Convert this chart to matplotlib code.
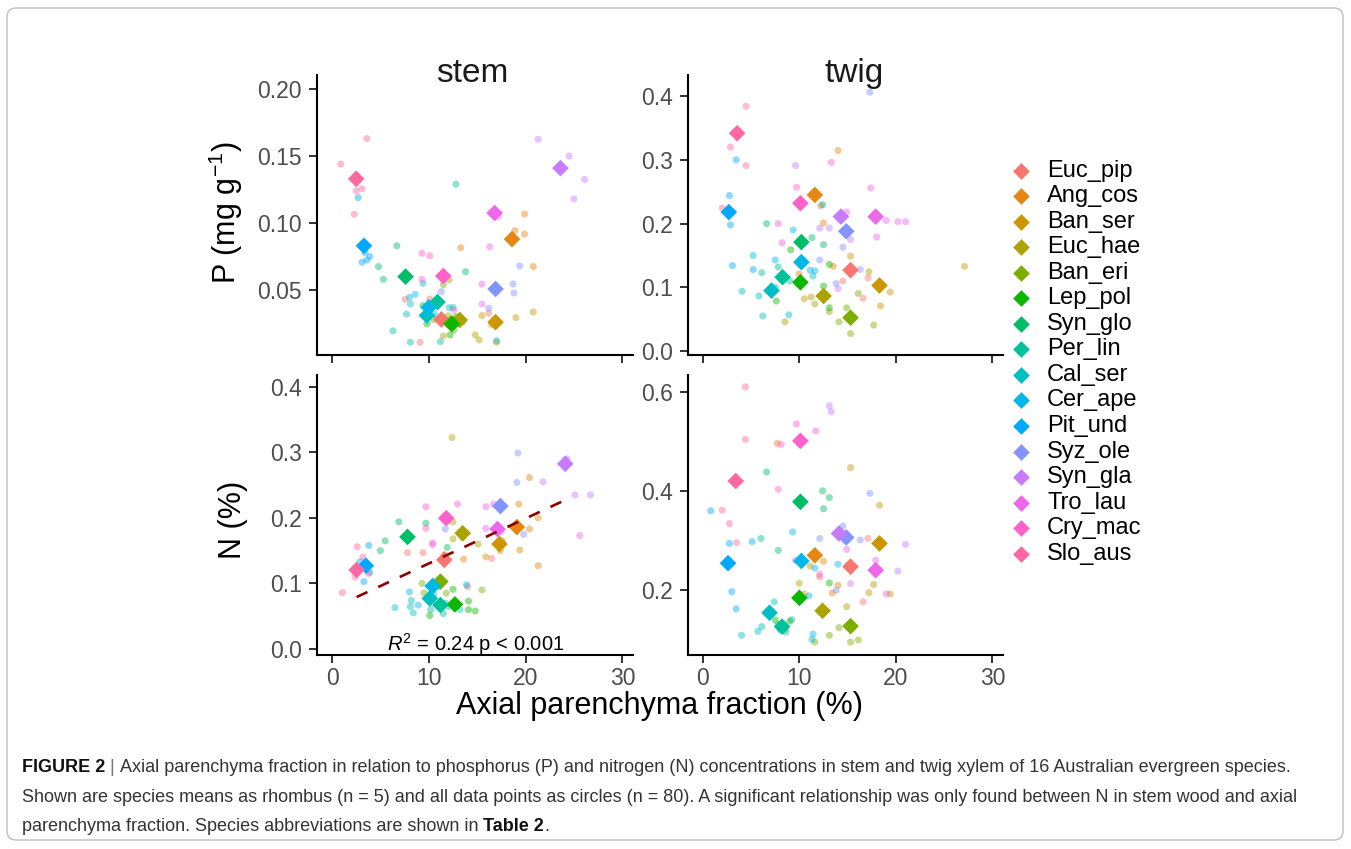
import matplotlib
matplotlib.use("Agg")
import matplotlib.pyplot as plt
from matplotlib import font_manager as fm
from matplotlib.patches import FancyBboxPatch
import numpy as np

# ---------------- data ----------------
SPECIES = ["Euc_pip", "Ang_cos", "Ban_ser", "Euc_hae", "Ban_eri", "Lep_pol", "Syn_glo", "Per_lin",
           "Cal_ser", "Cer_ape", "Pit_und", "Syz_ole", "Syn_gla", "Tro_lau", "Cry_mac", "Slo_aus"]
COLORS = ["#F8766D", "#E68613", "#CD9600", "#ABA300", "#7CAE00", "#0CB702", "#00BE67", "#00C19A",
          "#00BFC4", "#00B8E7", "#00A9FF", "#8494FF", "#C77CFF", "#ED68ED", "#FF61CC", "#FF68A1"]
N_PER_SPECIES = 5

# species means (rhombus)
STEM_P_MEAN_X = [11.3, 18.6, 16.9, 13.2, 12.3, 12.4, 7.6, 10.9, 9.8, 10.0, 3.3, 16.9, 23.6, 16.8, 11.5, 2.5]
STEM_P_MEAN_Y = [0.028, 0.088, 0.026, 0.0277, 0.025, 0.0247, 0.060, 0.041, 0.031, 0.037, 0.083, 0.0508,
                 0.141, 0.1075, 0.0605, 0.133]
STEM_N_MEAN_X = [11.6, 19.1, 17.3, 13.5, 11.2, 12.7, 7.8, 11.2, 10.1, 10.4, 3.5, 17.4, 24.1, 17.1, 11.8, 2.55]
STEM_N_MEAN_Y = [0.136, 0.186, 0.160, 0.1766, 0.1028, 0.068, 0.171, 0.067, 0.077, 0.096, 0.127, 0.218,
                 0.2825, 0.183, 0.1995, 0.1206]
TWIG_P_MEAN_X = [15.3, 11.6, 18.3, 12.5, 15.3, 10.1, 10.2, 8.25, 7.1, 10.2, 2.68, 14.85, 14.3, 17.9, 10.1, 3.54]
TWIG_P_MEAN_Y = [0.127, 0.245, 0.103, 0.0865, 0.0525, 0.108, 0.171, 0.116, 0.095, 0.1396, 0.218, 0.188,
                 0.211, 0.211, 0.232, 0.3417]
TWIG_N_MEAN_X = [15.3, 11.6, 18.3, 12.4, 15.3, 10.0, 10.1, 8.2, 6.9, 10.2, 2.6, 14.85, 14.1, 17.9, 10.1, 3.4]
TWIG_N_MEAN_Y = [0.247, 0.270, 0.294, 0.158, 0.127, 0.184, 0.378, 0.126, 0.154, 0.2586, 0.254, 0.306,
                 0.314, 0.240, 0.501, 0.420]

# all data points (circles), 5 per species in SPECIES order
STEM_P_PT_X = [7.55, 9.1, 10.1, 16.2, 13.0, 19.9, 19.9, 18.9, 20.8, 13.3, 19.0, 17.0, 15.5, 20.8, 16.5,
               14.8, 15.2, 12.1, 12.0, 11.5, 11.5, 12.6, 10.5, 13.5, 12.0, 9.4, 9.8, 12.2, 13.0, 12.8,
               6.7, 4.8, 5.3, 13.8, 7.6, 12.8, 6.3, 8.1, 11.2, 12.5, 9.4, 8.1, 7.7, 17.0, 12.1,
               8.0, 8.6, 10.6, 11.3, 10.5, 2.7, 3.1, 3.6, 3.4, 3.9, 11.3, 18.7, 18.8, 19.4, 16.2,
               21.3, 24.5, 26.1, 25.0, 23.4, 16.3, 15.5, 15.5, 16.8, 17.2, 9.3, 10.1, 9.3, 12.6, 11.5,
               0.9, 3.6, 2.5, 3.1, 2.3]
STEM_P_PT_Y = [0.043, 0.011, 0.0433, 0.0327, 0.025, 0.1067, 0.0918, 0.0943, 0.0675, 0.0816,
               0.0294, 0.011, 0.0309, 0.0336, 0.024, 0.0165, 0.0128, 0.0575, 0.0307, 0.0157,
               0.054, 0.020, 0.028, 0.026, 0.024, 0.0383, 0.0247, 0.0165, 0.027, 0.030,
               0.083, 0.0675, 0.058, 0.0637, 0.060, 0.129, 0.0195, 0.011, 0.0115, 0.037,
               0.055, 0.0396, 0.032, 0.0122, 0.0368, 0.0446, 0.0468, 0.032, 0.030, 0.040,
               0.119, 0.0707, 0.0724, 0.078, 0.075, 0.0488, 0.0545, 0.0478, 0.068, 0.0364,
               0.1625, 0.150, 0.1326, 0.118, 0.140, 0.0823, 0.0396, 0.0543, 0.108, 0.105,
               0.0774, 0.0756, 0.058, 0.035, 0.060, 0.144, 0.163, 0.124, 0.1256, 0.1065]

STEM_N_PT_X = [9.4, 7.8, 16.5, 14.0, 11.6, 19.3, 20.4, 20.4, 21.3, 13.6, 15.9, 21.3, 19.4, 17.4, 17.6,
               12.4, 12.5, 12.5, 15.1, 13.5, 9.5, 15.5, 9.3, 11.8, 10.5, 10.1, 14.1, 14.1, 14.8, 12.5,
               5.0, 5.5, 6.9, 9.7, 11.9, 11.5, 10.5, 11.7, 12.0, 10.2, 6.5, 8.2, 8.1, 8.4, 13.2,
               8.0, 8.9, 13.9, 10.5, 11.0, 3.8, 3.3, 2.9, 3.9, 3.6, 19.2, 19.1, 19.8, 11.7, 17.2,
               21.8, 25.1, 26.7, 24.0, 24.3, 15.9, 15.9, 10.4, 25.6, 17.5, 9.7, 9.7, 10.4, 12.97, 16.7,
               1.07, 2.6, 2.38, 3.2, 3.8]
STEM_N_PT_Y = [0.147, 0.147, 0.138, 0.095, 0.144, 0.221, 0.2616, 0.183, 0.127, 0.137,
               0.1405, 0.200, 0.151, 0.150, 0.165, 0.3226, 0.194, 0.168, 0.160, 0.170,
               0.0855, 0.0901, 0.100, 0.085, 0.095, 0.051, 0.073, 0.060, 0.058, 0.091,
               0.150, 0.165, 0.194, 0.192, 0.155, 0.054, 0.084, 0.070, 0.065, 0.060,
               0.063, 0.074, 0.0646, 0.055, 0.060, 0.087, 0.067, 0.098, 0.100, 0.095,
               0.158, 0.1028, 0.133, 0.117, 0.128, 0.299, 0.254, 0.175, 0.183, 0.180,
               0.255, 0.235, 0.235, 0.280, 0.290, 0.217, 0.184, 0.159, 0.173, 0.180,
               0.217, 0.184, 0.162, 0.221, 0.221, 0.086, 0.156, 0.110, 0.140, 0.115]

TWIG_P_PT_X = [17.1, 16.6, 12.2, 15.3, 14.5, 14.0, 12.5, 13.5, 9.97, 11.6, 19.4, 18.4, 27.1, 15.3, 10.5,
               11.2, 11.6, 13.1, 8.5, 17.2, 14.9, 14.1, 17.7, 15.3, 16.1, 12.5, 13.1, 7.6, 9.1, 13.1,
               12.4, 11.3, 12.5, 6.6, 10.2, 7.8, 6.1, 8.25, 9.0, 7.5, 4.06, 5.8, 6.2, 8.9, 11.4,
               9.35, 5.2, 7.5, 11.1, 11.6, 3.44, 2.75, 2.85, 3.06, 5.2, 17.3, 14.5, 16.3, 13.8, 12.1,
               9.6, 12.1, 15.3, 13.1, 14.0, 17.4, 19.0, 20.2, 21.0, 18.0, 13.3, 9.7, 7.8, 8.2, 14.9,
               4.47, 2.85, 4.47, 2.0, 3.5]
TWIG_P_PT_Y = [0.115, 0.083, 0.228, 0.127, 0.110, 0.3146, 0.201, 0.133, 0.121, 0.245,
               0.0927, 0.071, 0.133, 0.149, 0.082, 0.085, 0.074, 0.062, 0.046, 0.1245,
               0.068, 0.046, 0.041, 0.0276, 0.0905, 0.102, 0.068, 0.0786, 0.159, 0.136,
               0.2297, 0.178, 0.167, 0.200, 0.170, 0.132, 0.123, 0.116, 0.110, 0.100,
               0.094, 0.0865, 0.0552, 0.057, 0.118, 0.190, 0.150, 0.143, 0.127, 0.126,
               0.300, 0.244, 0.198, 0.134, 0.128, 0.406, 0.163, 0.128, 0.106, 0.143,
               0.291, 0.193, 0.175, 0.193, 0.098, 0.256, 0.205, 0.203, 0.203, 0.179,
               0.296, 0.257, 0.200, 0.170, 0.218, 0.384, 0.320, 0.291, 0.2245, 0.340]

TWIG_N_PT_X = [17.1, 16.6, 12.1, 15.3, 15.0, 7.7, 12.5, 14.0, 13.4, 10.5, 15.3, 18.3, 19.4, 11.1, 18.3,
               9.97, 17.7, 17.2, 14.9, 8.5, 14.1, 13.1, 11.6, 15.3, 16.1, 13.1, 7.5, 9.0, 12.4, 10.0,
               6.6, 12.4, 13.1, 12.5, 7.8, 6.0, 8.0, 7.8, 9.2, 8.6, 7.4, 6.1, 5.7, 4.0, 11.3,
               9.3, 11.6, 14.0, 11.0, 11.4, 0.8, 2.75, 2.99, 3.44, 5.1, 17.3, 14.5, 16.3, 12.1, 13.8,
               13.1, 13.3, 21.0, 20.2, 15.3, 17.9, 19.0, 14.9, 9.6, 18.3, 9.7, 11.7, 7.8, 8.1, 12.1,
               4.4, 4.4, 2.0, 2.75, 3.5]
TWIG_N_PT_Y = [0.304, 0.176, 0.2262, 0.247, 0.250, 0.496, 0.258, 0.2094, 0.194, 0.192,
               0.447, 0.371, 0.192, 0.2485, 0.290, 0.2135, 0.211, 0.1946, 0.1663, 0.1206,
               0.124, 0.1085, 0.0948, 0.0948, 0.099, 0.2142, 0.139, 0.137, 0.158, 0.184,
               0.438, 0.400, 0.3865, 0.364, 0.280, 0.304, 0.120, 0.130, 0.140, 0.115,
               0.176, 0.126, 0.1165, 0.1085, 0.100, 0.317, 0.244, 0.252, 0.188, 0.111,
               0.360, 0.294, 0.1966, 0.162, 0.2976, 0.395, 0.329, 0.301, 0.304, 0.1993,
               0.572, 0.560, 0.292, 0.238, 0.2128, 0.260, 0.192, 0.282, 0.260, 0.240,
               0.535, 0.521, 0.403, 0.494, 0.2317, 0.610, 0.504, 0.361, 0.334, 0.2956]

# significant regression (stem N ~ axial parenchyma)
TREND_INTERCEPT = 0.0617
TREND_SLOPE = 0.00687
TREND_X_RANGE = [2.55, 24.1]
R2_TEXT = "0.24"
P_TEXT = "p < 0.001"

X_TICKS = [0, 10, 20, 30]
STEM_P_TICKS = [0.05, 0.10, 0.15, 0.20]
TWIG_P_TICKS = [0.0, 0.1, 0.2, 0.3, 0.4]
STEM_N_TICKS = [0.0, 0.1, 0.2, 0.3, 0.4]
TWIG_N_TICKS = [0.2, 0.4, 0.6]

CAPTION_LINES = [
    [("FIGURE 2", "bold", "#111111"), (" | ", "normal", "#777777"),
     ("Axial parenchyma fraction in relation to phosphorus (P) and nitrogen (N) concentrations in stem and twig xylem of 16 Australian evergreen species.", "normal", "#333333")],
    [("Shown are species means as rhombus (n = 5) and all data points as circles (n = 80). A significant relationship was only found between N in stem wood and axial", "normal", "#333333")],
    [("parenchyma fraction. Species abbreviations are shown in ", "normal", "#333333"),
     ("Table 2", "bold", "#111111"), (".", "normal", "#333333")],
]

# ---------------- style ----------------
W, H = 1351, 849
names = {f.name for f in fm.fontManager.ttflist}
BASE = "Liberation Sans" if "Liberation Sans" in names else "DejaVu Sans"
CAP_FAMILY = "Liberation Sans Narrow" if "Liberation Sans Narrow" in names else BASE
plt.rcParams["font.family"] = [BASE, "DejaVu Sans"]
plt.rcParams["mathtext.fontset"] = "custom"
plt.rcParams["mathtext.rm"] = BASE
plt.rcParams["mathtext.it"] = BASE + ":italic"
plt.rcParams["mathtext.bf"] = BASE + ":bold"

TICK_FS = 16.5
TITLE_FS = 22
STRIP_FS = 24
LEG_FS = 17
PT_SIZE = 26
MEAN_SIZE = 72
PT_ALPHA = 0.45


def fx(px):
    return px / W


def fy(py):
    return 1 - py / H


fig = plt.figure(figsize=(W / 100, H / 100), dpi=100)
fig.patch.set_facecolor("white")

# overlay for frame / legend / caption (pixel coordinates)
ov = fig.add_axes([0, 0, 1, 1], zorder=0)
ov.set_xlim(0, W)
ov.set_ylim(H, 0)
ov.axis("off")
ov.add_patch(FancyBboxPatch((7, 8), 1336, 832, boxstyle="round,pad=0,rounding_size=9",
                            fc="none", ec="#BDBDBD", lw=1.0))

species_idx = np.repeat(np.arange(len(SPECIES)), N_PER_SPECIES)
pt_colors = [COLORS[i] for i in species_idx]

panels = [
    ((317, 75, 633, 355), STEM_P_MEAN_X, STEM_P_MEAN_Y, STEM_P_PT_X, STEM_P_PT_Y,
     (0.0015, 0.2105), STEM_P_TICKS, "{:.2f}", False),
    ((688, 75, 1003, 355), TWIG_P_MEAN_X, TWIG_P_MEAN_Y, TWIG_P_PT_X, TWIG_P_PT_Y,
     (-0.006, 0.433), TWIG_P_TICKS, "{:.1f}", False),
    ((317, 375, 633, 655), STEM_N_MEAN_X, STEM_N_MEAN_Y, STEM_N_PT_X, STEM_N_PT_Y,
     (-0.0092, 0.418), STEM_N_TICKS, "{:.1f}", True),
    ((688, 375, 1003, 655), TWIG_N_MEAN_X, TWIG_N_MEAN_Y, TWIG_N_PT_X, TWIG_N_PT_Y,
     (0.0687, 0.634), TWIG_N_TICKS, "{:.1f}", True),
]
axes = []
for rect, mx, my, px_, py_, ylim, yt, fmt, showx in panels:
    l, t, r, b = rect
    ax = fig.add_axes([fx(l), fy(b), (r - l) / W, (b - t) / H], zorder=2)
    ax.patch.set_alpha(0)
    ax.scatter(px_, py_, s=PT_SIZE, c=pt_colors, alpha=PT_ALPHA, linewidths=0, zorder=2)
    ax.scatter(mx, my, s=MEAN_SIZE, c=COLORS, marker="D", linewidths=0, zorder=3)
    ax.set_xlim(-1.55, 31.1)
    ax.set_ylim(*ylim)
    ax.set_xticks(X_TICKS)
    ax.set_yticks(yt)
    ax.set_yticklabels([fmt.format(v) for v in yt])
    if not showx:
        ax.set_xticklabels([])
    for s in ("top", "right"):
        ax.spines[s].set_visible(False)
    for s in ("left", "bottom"):
        ax.spines[s].set_linewidth(1.5)
        ax.spines[s].set_color("black")
    ax.tick_params(direction="out", length=5.5, width=1.4, color="#333333",
                   labelsize=TICK_FS, labelcolor="#4D4D4D", pad=3)
    ax.tick_params(axis="y", pad=5.5)
    axes.append(ax)

# regression line + annotation in stem N
ax_sn = axes[2]
tx = np.array(TREND_X_RANGE)
ax_sn.plot(tx, TREND_INTERCEPT + TREND_SLOPE * tx, color="#8B0000", lw=1.9,
           dashes=(4.5, 4.5), zorder=4)
ax_sn.text(14.8, -0.003, r"$R^2$" + " = " + R2_TEXT + " " + P_TEXT, ha="center", va="baseline",
           fontsize=14.5, color="black", zorder=5)

# strip titles & axis titles
fig.text(fx(472), fy(82), "stem", ha="center", va="baseline", fontsize=STRIP_FS, color="#1A1A1A")
fig.text(fx(854), fy(82), "twig", ha="center", va="baseline", fontsize=STRIP_FS, color="#1A1A1A")
fig.text(fx(226), fy(213), r"P (mg g$^{-1}$)", rotation=90, ha="center", va="center",
         fontsize=TITLE_FS, color="black")
fig.text(fx(233), fy(520), "N (%)", rotation=90, ha="center", va="center",
         fontsize=TITLE_FS, color="black")
fig.text(fx(660), fy(706), "Axial parenchyma fraction (%)", ha="center", va="center",
         fontsize=TITLE_FS, color="black")

# legend
for i, (name, col) in enumerate(zip(SPECIES, COLORS)):
    yy = 170.5 + i * 25.55
    ov.scatter([1020.5], [yy], s=MEAN_SIZE, c=[col], marker="D", linewidths=0)
    ov.text(1047, yy, name, ha="left", va="center", fontsize=LEG_FS, color="black")

# caption
renderer = fig.canvas.get_renderer()


def line_width(segs, size):
    tot = 0
    for txt, wgt, col in segs:
        t = fig.text(0, 0, txt, fontsize=size, fontweight=wgt, family=CAP_FAMILY)
        tot += t.get_window_extent(renderer).width
        t.remove()
    return tot


cap_size = 13.0
w1 = line_width(CAPTION_LINES[0], cap_size)
cap_size = cap_size * (1290 - 22) / w1 if w1 > 0 else cap_size
cap_size = min(cap_size, 14.5)
for li, segs in enumerate(CAPTION_LINES):
    x = 22.0
    yb = 772 + li * 29.5
    for txt, wgt, col in segs:
        t = fig.text(fx(x), fy(yb), txt, fontsize=cap_size, fontweight=wgt, color=col,
                     family=CAP_FAMILY, ha="left", va="baseline")
        x += t.get_window_extent(renderer).width

fig.savefig("out.png", dpi=100, facecolor="white")
